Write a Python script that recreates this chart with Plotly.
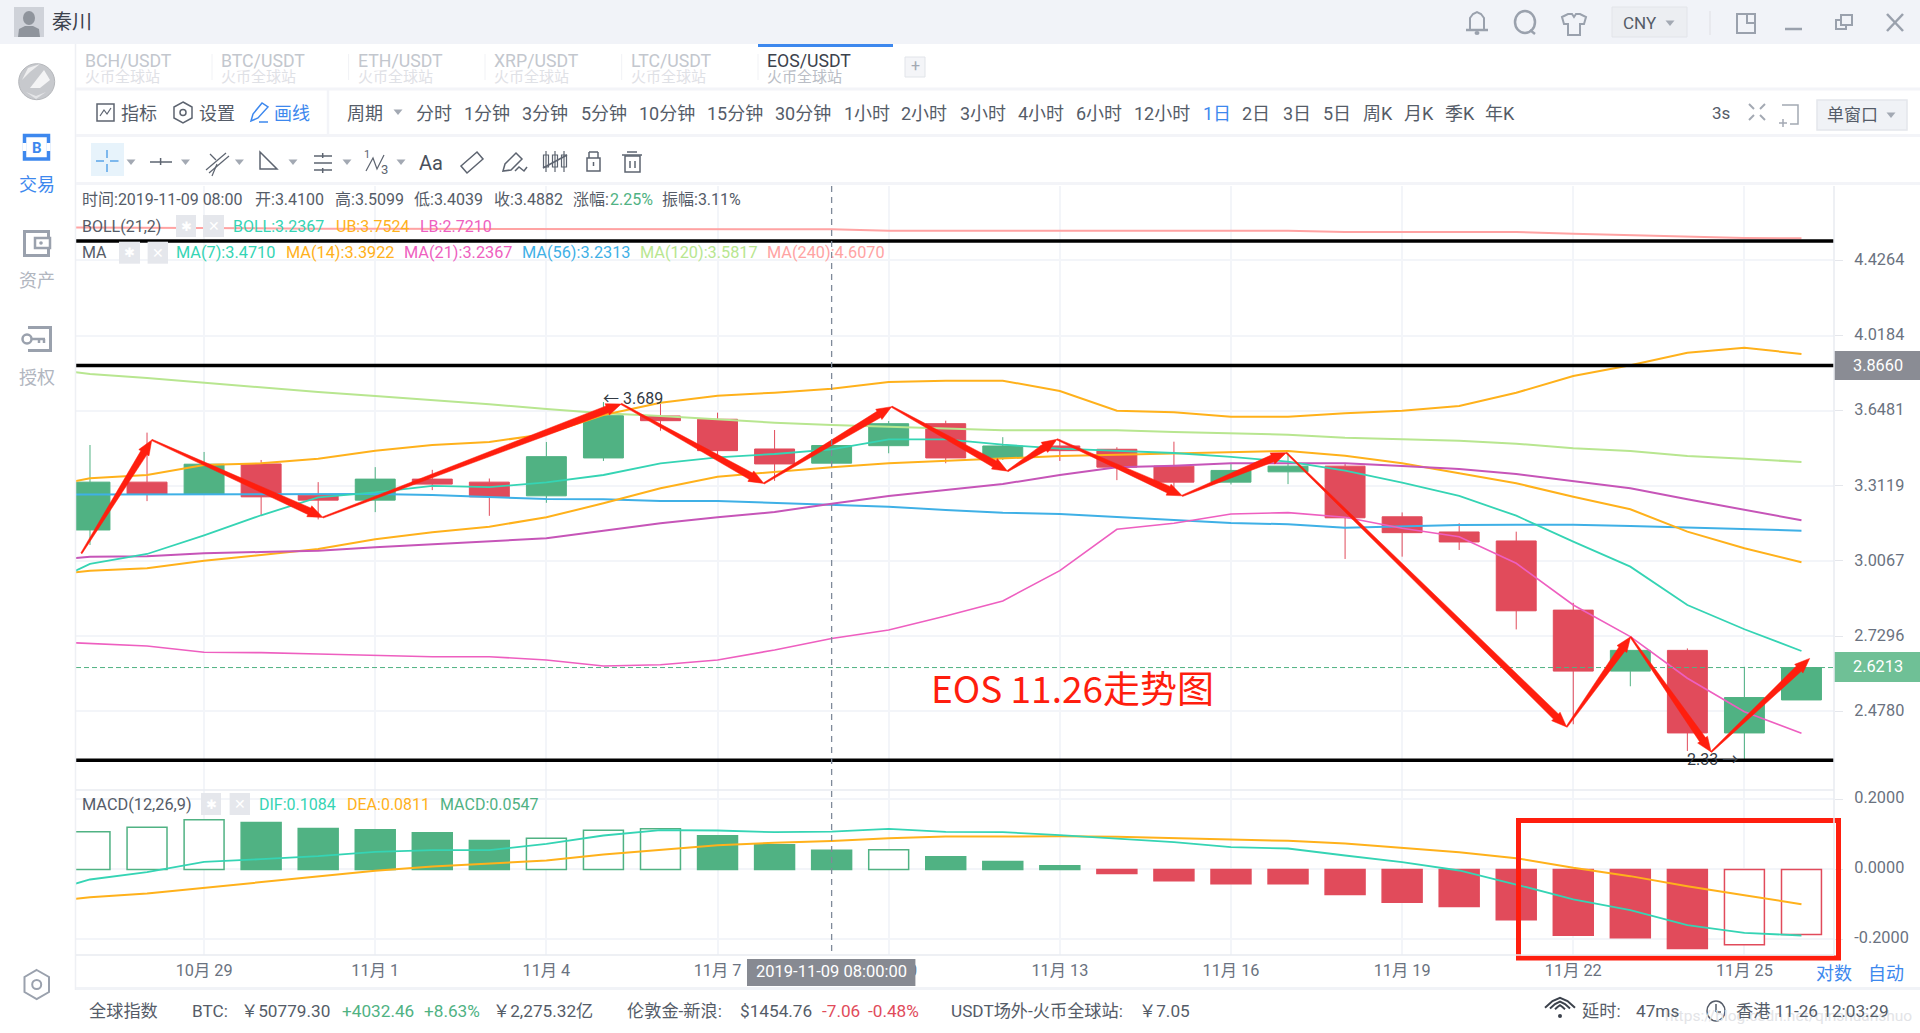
import math
import pandas as pd
import plotly.graph_objects as go

W = 1920
H = 1033

# 日线数据
dates = ["2019-10-27", "2019-10-28", "2019-10-29", "2019-10-30", "2019-10-31", "2019-11-01", "2019-11-02", "2019-11-03",
         "2019-11-04", "2019-11-05", "2019-11-06", "2019-11-07", "2019-11-08", "2019-11-09", "2019-11-10", "2019-11-11",
         "2019-11-12", "2019-11-13", "2019-11-14", "2019-11-15", "2019-11-16", "2019-11-17", "2019-11-18", "2019-11-19",
         "2019-11-20", "2019-11-21", "2019-11-22", "2019-11-23", "2019-11-24", "2019-11-25", "2019-11-26"]
opens = [3.129, 3.3277, 3.2755, 3.4065, 3.2725, 3.2515, 3.3406, 3.3277, 3.2695, 3.4329, 3.6233, 3.6081, 3.4727, 3.41, 3.4875, 3.5876,
         3.4342, 3.4862, 3.4714, 3.3969, 3.3277, 3.3721, 3.3969, 3.1825, 3.121, 3.0851, 2.8224, 2.6094, 2.6799, 2.4098, 2.5143]
highs = [3.4905, 3.5465, 3.4594, 3.424, 3.3277, 3.3925, 3.3808, 3.3433, 3.5041, 3.689, 3.6798, 3.6387, 3.5586, 3.5099, 3.6, 3.6015,
         3.5259, 3.5163, 3.4804, 3.5055, 3.4096, 3.4536, 3.4096, 3.2005, 3.1561, 3.1222, 2.849, 2.6809, 2.6867, 2.6239, 2.6235]
lows = [3.0692, 3.2474, 3.2755, 3.1882, 3.1718, 3.2017, 3.2936, 3.1865, 3.2403, 3.4196, 3.5551, 3.424, 3.3332, 3.4039, 3.4536, 3.4096,
        3.424, 3.4196, 3.3362, 3.2821, 3.3179, 3.3192, 3.0144, 3.0234, 3.0495, 2.7532, 2.4369, 2.559, 2.3546, 2.33, 2.5143]
closes = [3.3277, 3.2755, 3.4054, 3.2653, 3.2515, 3.3406, 3.3192, 3.2653, 3.4386, 3.6247, 3.6015, 3.4652, 3.4065, 3.4882, 3.5876, 3.4329,
          3.4862, 3.4652, 3.3925, 3.3277, 3.3782, 3.3969, 3.1784, 3.1182, 3.0811, 2.8199, 2.6094, 2.6799, 2.4098, 2.5221, 2.6213]

# 均线多一个点(10-26),线才能画到图的左边
line_dates = ["2019-10-26"] + dates
ma7 = [2.893, 2.9951, 3.0338, 3.1077, 3.1888, 3.2634, 3.2845, 3.3119, 3.3063, 3.327, 3.3584, 3.4094, 3.4358, 3.4504, 3.471, 3.5163,
       3.5163, 3.492, 3.474, 3.4651, 3.4548, 3.4373, 3.4164, 3.3771, 3.3253, 3.2689, 3.1871, 3.0822, 2.9848, 2.8412, 2.7537, 2.6778]
ma14 = [2.9446, 2.9695, 2.9786, 3.0079, 3.0299, 3.0535, 3.0918, 3.1197, 3.1422, 3.1806, 3.2382, 3.3015, 3.3509, 3.3714, 3.3922, 3.4094,
        3.4208, 3.4295, 3.4414, 3.4473, 3.4535, 3.4593, 3.4638, 3.443, 3.4094, 3.3657, 3.3227, 3.266, 3.2135, 3.1222, 3.0562, 3.0017]
ma21 = [3.003, 3.0234, 3.025, 3.0366, 3.0417, 3.0468, 3.0601, 3.0719, 3.0822, 3.0958, 3.1262, 3.1562, 3.1806, 3.2023, 3.2367, 3.2689,
        3.2942, 3.3198, 3.3584, 3.3919, 3.3989, 3.4094, 3.4094, 3.4094, 3.3975, 3.3845, 3.3628, 3.3326, 3.3015, 3.255, 3.2106, 3.1683]
ma56 = [3.2743, 3.2743, 3.2743, 3.2743, 3.2743, 3.2743, 3.2772, 3.273, 3.266, 3.2563, 3.255, 3.2479, 3.2479, 3.2408, 3.2313, 3.2243,
        3.2106, 3.1995, 3.1942, 3.1833, 3.1695, 3.1574, 3.152, 3.1383, 3.1452, 3.1492, 3.1504, 3.1504, 3.1452, 3.1383, 3.1331, 3.1262]
ma120 = [3.8591, 3.8245, 3.8049, 3.782, 3.7577, 3.737, 3.7178, 3.6987, 3.6783, 3.6561, 3.6359, 3.6233, 3.6079, 3.5922, 3.5817, 3.5738,
         3.5632, 3.5572, 3.5572, 3.5572, 3.5495, 3.5436, 3.5372, 3.5236, 3.5177, 3.51, 3.4966, 3.4758, 3.4637, 3.4414, 3.4296, 3.4151]
ma240 = [4.6189, 4.6165, 4.6147, 4.6135, 4.612, 4.6112, 4.61, 4.6095, 4.6088, 4.6085, 4.608, 4.6078, 4.6075, 4.6072, 4.607, 4.5987,
         4.5987, 4.5987, 4.5987, 4.5987, 4.5987, 4.5987, 4.5987, 4.591, 4.591, 4.591, 4.591, 4.581, 4.5733, 4.5645, 4.5558, 4.554]
boll_ub = [3.2972, 3.3442, 3.3584, 3.4019, 3.4094, 3.4296, 3.4651, 3.4904, 3.5041, 3.5404, 3.628, 3.6859, 3.7191, 3.7336, 3.7524, 3.7854,
           3.7917, 3.7917, 3.7418, 3.6481, 3.6406, 3.6201, 3.6201, 3.6359, 3.6481, 3.6702, 3.7336, 3.8146, 3.868, 3.9307, 3.9556, 3.9246]
boll_lb = [2.7126, 2.7032, 2.6952, 2.6734, 2.672, 2.6675, 2.663, 2.6582, 2.6582, 2.647, 2.6266, 2.631, 2.647, 2.6813, 2.721, 2.7512,
           2.8012, 2.8558, 2.9695, 3.1318, 3.1562, 3.1942, 3.1995, 3.1806, 3.1358, 3.1021, 2.9978, 2.8412, 2.7276, 2.5855, 2.4767, 2.4087]

macd_hist = [0.1076, 0.121, 0.142, 0.1343, 0.117, 0.1133, 0.1048, 0.0829, 0.0895, 0.1124, 0.1162, 0.0962, 0.0705, 0.0547, 0.0562, 0.0362,
             0.0229, 0.0105, -0.0114, -0.0324, -0.041, -0.041, -0.0714, -0.0933, -0.1057, -0.1438, -0.1876, -0.1952, -0.2257, -0.2152, -0.1857]
macd_hollow = [1, 1, 1, 0, 0, 0, 0, 0, 1, 1, 1, 0, 0, 0, 1, 0, 0, 0, 0, 0, 0, 0, 0, 0, 0, 0, 0, 0, 0, 1, 1]
dif = [-0.075, -0.0286, -0.0076, 0.0219, 0.0295, 0.0381, 0.0505, 0.0552, 0.0552, 0.0733, 0.0971, 0.1124, 0.1114, 0.1067, 0.1084, 0.1162,
       0.1076, 0.1067, 0.0981, 0.0886, 0.0781, 0.0638, 0.06, 0.04, 0.021, -0.0029, -0.0429, -0.0857, -0.1162, -0.159, -0.181, -0.1886]
dea = [-0.0986, -0.079, -0.0686, -0.0524, -0.0362, -0.0219, -0.0038, 0.0086, 0.0181, 0.0257, 0.0429, 0.0552, 0.0695, 0.0762, 0.0811, 0.0895,
       0.0943, 0.0943, 0.0952, 0.0933, 0.0895, 0.0857, 0.0819, 0.0743, 0.061, 0.0495, 0.0324, 0.0048, -0.019, -0.0476, -0.0733, -0.099]

# 手画的折线箭头
zigzag_time = ["2019-10-26 20:24", "2019-10-28 02:00", "2019-10-31 02:00", "2019-11-05 07:30", "2019-11-07 19:30", "2019-11-10 01:16",
               "2019-11-12 02:00", "2019-11-12 22:50", "2019-11-15 03:30", "2019-11-16 23:18", "2019-11-21 21:12", "2019-11-23 00:07",
               "2019-11-24 10:00", "2019-11-26 03:27"]
zigzag_price = [3.0366, 3.5132, 3.18, 3.6798, 3.3221, 3.667, 3.3751, 3.5163, 3.2695, 3.4562, 2.4284, 2.7271, 2.3516, 2.6524]

black_levels = [4.5383, 3.866, 2.3267]
last_price = 2.6213

price_ticks = [4.4264, 4.0184, 3.6481, 3.3119, 3.0067, 2.7296, 2.478]
macd_ticks = [0.2, 0.0, -0.2]
tick_dates = ["2019-10-29", "2019-11-01", "2019-11-04", "2019-11-07", "2019-11-10", "2019-11-13", "2019-11-16", "2019-11-19", "2019-11-22", "2019-11-25"]
tick_labels = ["10月 29", "11月 1", "11月 4", "11月 7", "11月 10", "11月 13", "11月 16", "11月 19", "11月 22", "11月 25"]

x_range = ["2019-10-26 18:07", "2019-11-26 13:41"]
price_range = [2.2392, 4.8712]
macd_range = [-0.2443, 0.2271]

GREEN = "#50b283"
RED = "#e14b5b"
TEAL = "#35d4b4"
ORANGE = "#ffb11b"
MAGENTA = "#c655b8"
PINK = "#ee5fc0"
BLUE = "#3fb0e6"
LGREEN = "#b8e690"
SALMON = "#ffa3a3"
TXT = "#555c68"
GRID = "#f3f5f9"
ICON = "#9aa1ad"
TOOL = "#5d6470"
ACTIVE = "#3d88ee"
ARROW = "#ff1e0e"
FONT = "Roboto, 'Noto Sans CJK SC', sans-serif"

PLOT_L, PLOT_R = 76, 1834
PANE_T, PANE_M, PANE_B = 186, 790, 955

fig = go.Figure()

fig.add_trace(go.Candlestick(x=dates, open=opens, high=highs, low=lows, close=closes, whiskerwidth=0,
                             increasing=dict(line=dict(color=GREEN, width=1), fillcolor=GREEN),
                             decreasing=dict(line=dict(color=RED, width=1), fillcolor=RED),
                             showlegend=False, hoverinfo="skip"))

for vals, col, wd in [(ma240, SALMON, 2), (ma120, LGREEN, 2), (ma56, BLUE, 2), (boll_ub, ORANGE, 2), (boll_lb, PINK, 1.6),
                      (ma14, ORANGE, 2), (ma21, MAGENTA, 2), (ma7, TEAL, 1.8)]:
    fig.add_trace(go.Scatter(x=line_dates, y=vals, mode="lines", line=dict(color=col, width=wd), showlegend=False, hoverinfo="skip"))

for lv in black_levels:
    fig.add_trace(go.Scatter(x=x_range, y=[lv, lv], mode="lines", line=dict(color="#000000", width=3.5), showlegend=False, hoverinfo="skip"))
fig.add_trace(go.Scatter(x=x_range, y=[last_price, last_price], mode="lines", line=dict(color=GREEN, width=1, dash="5px,3px"),
                         showlegend=False, hoverinfo="skip"))

# 箭头: 尾细头粗, 多边形的宽度按像素算
t0 = pd.Timestamp(x_range[0])
day_px = (PLOT_R - PLOT_L) / ((pd.Timestamp(x_range[1]) - t0) / pd.Timedelta(days=1))
lg0, lg1 = math.log10(price_range[0]), math.log10(price_range[1])
dec_px = (PANE_M - PANE_T) / (lg1 - lg0)


def to_px(t, p):
    return ((pd.Timestamp(t) - t0) / pd.Timedelta(days=1) * day_px, -math.log10(p) * dec_px)


def from_px(px, py):
    return t0 + pd.Timedelta(days=px / day_px), 10 ** (-py / dec_px)


for i in range(len(zigzag_time) - 1):
    ax, ay = to_px(zigzag_time[i], zigzag_price[i])
    bx, by = to_px(zigzag_time[i + 1], zigzag_price[i + 1])
    ln = math.hypot(bx - ax, by - ay)
    dx, dy = (bx - ax) / ln, (by - ay) / ln
    nx, ny = -dy, dx
    neck = (bx - dx * 15, by - dy * 15)
    pts = [(ax + nx * 0.7, ay + ny * 0.7), (neck[0] + nx * 3.6, neck[1] + ny * 3.6), (neck[0] + nx * 6, neck[1] + ny * 6), (bx, by),
           (neck[0] - nx * 6, neck[1] - ny * 6), (neck[0] - nx * 3.6, neck[1] - ny * 3.6), (ax - nx * 0.7, ay - ny * 0.7), (ax + nx * 0.7, ay + ny * 0.7)]
    conv = [from_px(*q) for q in pts]
    fig.add_trace(go.Scatter(x=[c[0] for c in conv], y=[c[1] for c in conv], mode="lines", fill="toself", fillcolor=ARROW,
                             line=dict(color=ARROW, width=0.5), showlegend=False, hoverinfo="skip"))

# MACD
bar_fill = ["#ffffff" if h else (GREEN if v >= 0 else RED) for v, h in zip(macd_hist, macd_hollow)]
bar_line = [GREEN if v >= 0 else RED for v in macd_hist]
fig.add_trace(go.Bar(x=dates, y=macd_hist, yaxis="y2", width=60500000, marker=dict(color=bar_fill, line=dict(color=bar_line, width=1.5)),
                     showlegend=False, hoverinfo="skip"))
fig.add_trace(go.Scatter(x=line_dates, y=dea, yaxis="y2", mode="lines", line=dict(color=ORANGE, width=2), showlegend=False, hoverinfo="skip"))
fig.add_trace(go.Scatter(x=line_dates, y=dif, yaxis="y2", mode="lines", line=dict(color=TEAL, width=1.8), showlegend=False, hoverinfo="skip"))

shapes = []
annos = []


def px(x):
    return x / W


def py(y):
    return 1 - y / H


def rect(x0, y0, x1, y1, fill="rgba(0,0,0,0)", line=None, lw=1):
    shapes.append(dict(type="rect", xref="paper", yref="paper", x0=px(x0), x1=px(x1), y0=py(y0), y1=py(y1), fillcolor=fill,
                       line=dict(color=line or "rgba(0,0,0,0)", width=lw if line else 0)))


def seg(x0, y0, x1, y1, col=ICON, lw=1.5):
    shapes.append(dict(type="line", xref="paper", yref="paper", x0=px(x0), x1=px(x1), y0=py(y0), y1=py(y1), line=dict(color=col, width=lw)))


def circ(cx, cy, rx, ry, fill="rgba(0,0,0,0)", line=None, lw=1.5):
    shapes.append(dict(type="circle", xref="paper", yref="paper", x0=px(cx - rx), x1=px(cx + rx), y0=py(cy + ry), y1=py(cy - ry), fillcolor=fill,
                       line=dict(color=line or "rgba(0,0,0,0)", width=lw if line else 0)))


def poly(points, fill="rgba(0,0,0,0)", line=None, lw=1.5, close=True):
    d = "M " + " L ".join(f"{px(a):.5f} {py(b):.5f}" for a, b in points) + (" Z" if close else "")
    shapes.append(dict(type="path", xref="paper", yref="paper", path=d, fillcolor=fill, line=dict(color=line or "rgba(0,0,0,0)", width=lw if line else 0)))


def tri(x, y, col="#a3a9b3", s=4.5):
    poly([(x - s, y - 2.5), (x + s, y - 2.5), (x, y + 3)], fill=col)


def label(x, y, text, size=17, col=TXT, anchor="left"):
    annos.append(dict(xref="paper", yref="paper", x=px(x), y=py(y), text=text, showarrow=False, xanchor=anchor, yanchor="middle", borderpad=0,
                      font=dict(family=FONT, size=size, color=col)))


def gearbox(x0, x1, y):
    rect(x0, y - 11, x1, y + 11, fill="#e5e7ec")
    label((x0 + x1) / 2, y, "✱", 13, "#ffffff", "center")


def closebox(x0, x1, y):
    rect(x0, y - 11, x1, y + 11, fill="#e5e7ec")
    label((x0 + x1) / 2, y, "✕", 14, "#ffffff", "center")


# 顶栏
rect(0, 0, W, 44, fill="#f1f3f8")
rect(14, 7, 44, 37, fill="#cfd2d9")
circ(29, 18, 6, 7, fill="#8f949c")
poly([(18, 37), (19, 29), (25, 26), (33, 26), (39, 29), (40, 37)], fill="#8f949c")
label(51, 22, "秦川", 20, "#3c424c")
poly([(1470, 30), (1470, 18), (1473, 14), (1477, 12), (1481, 14), (1484, 18), (1484, 30)], line=ICON, lw=2)
seg(1466, 30, 1488, 30, ICON, 2.5)
circ(1477, 33, 2.5, 2, fill=ICON)
circ(1525, 22, 10, 11, line=ICON, lw=2.5)
seg(1530, 30, 1535, 34, ICON, 2.5)
poly([(1562, 17), (1568, 14), (1572, 14), (1574, 17), (1576, 14), (1580, 14), (1586, 17), (1584, 24), (1580, 24), (1580, 35), (1568, 35), (1568, 24), (1564, 24)],
     line=ICON, lw=2)
rect(1612, 7, 1687, 37, fill="#eceef2", line="#e2e4e9")
label(1622, 23, "CNY", 17, "#555c68")
tri(1670, 23)
seg(1710, 11, 1710, 35, "#e4e6eb", 1.5)
rect(1737, 14, 1755, 33, line=ICON, lw=2)
rect(1747, 14, 1755, 23, fill="#f1f3f8", line=ICON, lw=2)
seg(1785, 29, 1802, 29, ICON, 2.5)
rect(1836, 20, 1846, 29, line=ICON, lw=2)
rect(1841, 15, 1852, 25, fill="#f1f3f8", line=ICON, lw=2)
seg(1887, 14, 1903, 31, ICON, 2.5)
seg(1903, 14, 1887, 31, ICON, 2.5)

# 左侧栏
seg(75.5, 44, 75.5, 990, "#eef0f4", 1.5)
circ(36.7, 81.7, 18, 18, fill="#c7c9cd", line="#b5b7bb", lw=1)
poly([(22, 80), (28, 68), (40, 64), (30, 72)], fill="#eeeeef")
poly([(30, 88), (44, 70), (50, 80), (40, 88)], fill="#f4f4f5")
poly([(26, 92), (36, 96), (46, 92), (36, 99)], fill="#e4e5e7")
rect(24.5, 135.5, 48.5, 159, line=ACTIVE, lw=3.5)
seg(24.5, 143, 24.5, 151, "#ffffff", 4)
seg(48.5, 143, 48.5, 151, "#ffffff", 4)
label(36.7, 147.5, "<b>B</b>", 15, ACTIVE, "center")
label(36.7, 185, "交易", 18, ACTIVE, "center")
rect(24.5, 231.5, 48.5, 255.5, line=ICON, lw=3)
rect(35, 238, 50, 248, fill="#ffffff", line=ICON, lw=2.5)
circ(41, 243, 1.8, 1.8, fill=ICON)
label(36.7, 280, "资产", 18, "#b1b6bf", "center")
poly([(28, 327.5), (50.5, 327.5), (50.5, 350.5), (28, 350.5)], line=ICON, lw=3, close=False)
circ(27, 339, 4.5, 4.5, fill="#ffffff", line=ICON, lw=2.5)
seg(32, 339, 45, 339, ICON, 2.5)
seg(39, 339, 39, 343, ICON, 2.5)
seg(44, 339, 44, 343, ICON, 2.5)
label(36.7, 377, "授权", 18, "#b1b6bf", "center")
poly([(36.7, 970), (49, 977), (49, 992), (36.7, 999), (24.5, 992), (24.5, 977)], line=ICON, lw=2)
circ(36.7, 984.5, 4.5, 4.5, line=ICON, lw=2)

# 标签页
tab_names = ["BCH/USDT", "BTC/USDT", "ETH/USDT", "XRP/USDT", "LTC/USDT", "EOS/USDT"]
tab_x = [83.5, 220, 356.6, 493, 629.7, 766]
for i, (nm, tx) in enumerate(zip(tab_names, tab_x)):
    on = nm == "EOS/USDT"
    label(tx, 61, nm, 17.7, "#3c424c" if on else "#c3c7ce")
    label(tx, 77, "火币全球站", 15, "#b9bdc5" if on else "#dfe1e6")
    if i:
        seg(tx - 8, 54, tx - 8, 80, "#f1f2f5", 1)
rect(758, 44, 893, 47, fill=ACTIVE)
rect(905, 57, 925, 77, fill="#f4f5f8", line="#e1e4e9")
label(915, 66, "+", 16, "#a3a9b3", "center")
rect(76, 87.5, W, 90.5, fill="#f3f4f8")
rect(76, 134, W, 137, fill="#f3f4f8")
rect(76, 182, W, 185, fill="#f3f4f8")

# 工具栏 1
rect(97, 104, 114, 121, line=TOOL, lw=1.5)
poly([(100, 116), (104, 110), (107, 114), (111, 108)], line=TOOL, lw=1.2, close=False)
label(119.5, 113, "指标", 18)
poly([(183, 102), (192, 107), (192, 118), (183, 123), (174, 118), (174, 107)], line=TOOL, lw=1.5)
circ(183, 112.5, 3, 3, line=TOOL, lw=1.5)
label(198, 113, "设置", 18)
poly([(251, 121), (253, 114), (262, 103), (268, 107), (258, 118)], line=ACTIVE, lw=1.5)
seg(259, 122, 268, 122, ACTIVE, 1.5)
label(272.7, 113, "画线", 18, ACTIVE)
seg(328, 90, 328, 134, "#f3f4f8", 2.5)
label(345.6, 113, "周期", 18)
tri(398, 112)
period_names = ["分时", "1分钟", "3分钟", "5分钟", "10分钟", "15分钟", "30分钟", "1小时", "2小时", "3小时", "4小时", "6小时", "12小时",
                "1日", "2日", "3日", "5日", "周K", "月K", "季K", "年K"]
period_x = [414.8, 463, 521, 580, 637.7, 706, 774, 843, 900.4, 959, 1017, 1075, 1133, 1201.5, 1240.7, 1281.7, 1321.5, 1362, 1403, 1444, 1484.4]
for nm, tx in zip(period_names, period_x):
    label(tx, 113, nm, 18, ACTIVE if nm == "1日" else TXT)
label(1711, 113, "3s", 17)
for sx, sy in [(-1, -1), (1, -1), (-1, 1), (1, 1)]:
    seg(1757 + sx * 3, 112 + sy * 3, 1757 + sx * 8, 112 + sy * 8, "#a3a9b3", 2)
poly([(1782, 105), (1798, 105), (1798, 124), (1790, 124)], line="#a3a9b3", lw=1.5, close=False)
seg(1783, 119, 1783, 127, "#a3a9b3", 1.5)
seg(1779, 123, 1787, 123, "#a3a9b3", 1.5)
rect(1817, 100, 1907, 130, fill="#f0f2f6", line="#e4e6eb", lw=1.5)
label(1826, 115, "单窗口", 17)
tri(1891, 115)

# 工具栏 2
rect(91, 143, 124, 176, fill="#e7f3fb")
seg(96, 161, 104, 161, "#5aa4e8", 1.5)
seg(110, 161, 118.5, 161, "#5aa4e8", 1.5)
seg(107, 150, 107, 158, "#5aa4e8", 1.5)
seg(107, 164, 107, 172, "#5aa4e8", 1.5)
for tx in [131, 185.5, 239.4, 293, 347, 401]:
    tri(tx, 162)
seg(150, 162, 172, 162, TOOL, 1.5)
seg(160.6, 158, 160.6, 165, TOOL, 1.5)
seg(206, 170, 226, 153, TOOL, 1.2)
seg(209, 173, 229, 156, TOOL, 1.2)
seg(210, 154, 216, 160, TOOL, 1.2)
seg(217, 164, 212, 176, TOOL, 1.2)
poly([(260, 152), (277, 169), (260, 169)], line=TOOL, lw=1.5)
for yy in [156, 163, 170]:
    seg(314, yy, 332, yy, TOOL, 1.5)
seg(322.7, 153, 322.7, 158, TOOL, 1.5)
seg(322.7, 168, 322.7, 173, TOOL, 1.5)
poly([(366, 171), (373, 158), (377, 169), (384, 155)], line=TOOL, lw=1.2, close=False)
label(367, 155, "1", 11, TOOL, "center")
label(384, 169, "3", 13, TOOL, "center")
label(431, 163, "Aa", 20, "#4a505b", "center")
poly([(461, 166), (477, 152), (483, 159), (467, 173)], line=TOOL, lw=1.5)
poly([(503, 171), (505, 164), (516, 153), (522, 159), (511, 170)], line=TOOL, lw=1.5)
poly([(515, 171), (519, 167), (524, 171), (527, 167)], line=TOOL, lw=1.5, close=False)
for tx in [546, 555, 564]:
    seg(tx, 151, tx, 172, TOOL, 1.2)
    rect(tx - 2.5, 155, tx + 2.5, 167, line=TOOL, lw=1.2)
seg(543, 168, 567, 155, TOOL, 1.5)
rect(587, 158, 600, 171, line=TOOL, lw=1.5)
seg(589, 152, 598, 152, TOOL, 1.5)
seg(589, 152, 589, 158, TOOL, 1.5)
seg(598, 152, 598, 158, TOOL, 1.5)
seg(593.5, 162, 593.5, 166, TOOL, 1.5)
rect(625, 156, 640, 172, line=TOOL, lw=1.5)
seg(622, 155, 642, 155, TOOL, 1.5)
seg(627, 152, 637, 152, TOOL, 1.5)
seg(630, 161, 630, 168, TOOL, 1.5)
seg(635, 161, 635, 168, TOOL, 1.5)

# 信息行
info_items = ["时间:2019-11-09 08:00", "开:3.4100", "高:3.5099", "低:3.4039", "收:3.4882", "涨幅:", "振幅:3.11%"]
info_x = [81.2, 253.5, 334, 413, 492.5, 571.5, 661]
for t, tx in zip(info_items, info_x):
    label(tx, 199, t, 16)
label(609, 199, "2.25%", 16, GREEN)

label(81.2, 226, "BOLL(21,2)", 16)
gearbox(176, 196, 226)
closebox(203, 224, 226)
for t, tx, col in [("BOLL:3.2367", 232, TEAL), ("UB:3.7524", 334.5, ORANGE), ("LB:2.7210", 419, PINK)]:
    label(tx, 226, t, 16, col)

label(81.2, 252.7, "MA", 16)
gearbox(119, 140, 252.7)
closebox(147.6, 168, 252.7)
for t, tx, col in [("MA(7):3.4710", 175, TEAL), ("MA(14):3.3922", 285, ORANGE), ("MA(21):3.2367", 403, PINK), ("MA(56):3.2313", 521, BLUE),
                   ("MA(120):3.5817", 639, LGREEN), ("MA(240):4.6070", 766, SALMON)]:
    label(tx, 252.7, t, 16.3, col)

label(81.2, 804, "MACD(12,26,9)", 16.3)
gearbox(201, 221, 804)
closebox(229.6, 250, 804)
for t, tx, col in [("DIF:0.1084", 258, TEAL), ("DEA:0.0811", 345.6, ORANGE), ("MACD:0.0547", 438.7, GREEN)]:
    label(tx, 804, t, 16, col)

# 高低点标注
annos.append(dict(x="2019-11-05 12:30", y=math.log10(3.705), xref="x", yref="y", text="← 3.689", showarrow=False, xanchor="center", yanchor="middle",
                  font=dict(family=FONT, size=16, color="#333a44")))
annos.append(dict(x="2019-11-25 00:00", y=math.log10(2.33), xref="x", yref="y", text="2.33 →", showarrow=False, xanchor="right", yanchor="middle",
                  xshift=-4, font=dict(family=FONT, size=16, color="#333a44")))
annos.append(dict(x=px(929), y=py(687), xref="paper", yref="paper", text="EOS 11.26走势图", showarrow=False, xanchor="left", yanchor="middle",
                  font=dict(family="'Noto Sans CJK SC', sans-serif", size=37, color=ARROW)))

# 十字线和价格标签
shapes.append(dict(type="line", xref="x", yref="paper", x0="2019-11-09", x1="2019-11-09", y0=py(PANE_T), y1=py(PANE_B),
                   line=dict(color="#7f8a99", width=1.3, dash="6px,5px")))
rect(1834, 351, W, 380, fill="#8a8c94")
label(1852, 365, "3.8660", 16.3, "#ffffff")
rect(1834, 652, W, 682, fill="#6fc096")
label(1852, 666.5, "2.6213", 16.3, "#ffffff")
rect(747, 959, 915.4, 986, fill="#878a92")
label(831, 971.5, "2019-11-09 08:00:00", 16.5, "#ffffff", "center")

# 红框
rect(1518.5, 820.5, 1838.5, 958, line=ARROW, lw=5)

label(1815, 973, "对数", 18, ACTIVE)
label(1867, 973, "自动", 18, ACTIVE)

# 底部状态栏
rect(76, 987, W, 990, fill="#f1f3f7")
status_items = [("全球指数", 88, TXT), ("BTC:", 190.5, TXT), ("￥50779.30", 240, TXT), ("+4032.46", 341, GREEN), ("+8.63%", 422.5, GREEN),
                ("￥2,275.32亿", 492, TXT), ("伦敦金-新浪:", 626, TXT), ("$1454.76", 739, TXT), ("-7.06", 820.5, RED), ("-0.48%", 866.5, RED),
                ("USDT场外-火币全球站:", 950, TXT), ("￥7.05", 1138, TXT), ("延时:", 1581, TXT), ("47ms", 1635, TXT), ("香港 11-26 12:03:29", 1735, TXT)]
label(1664, 1016, "https://blog.csdn.net/qinshuanshuo", 15.5, "#e3e4e7")
for t, tx, col in status_items:
    label(tx, 1011, t, 17.2, col)
for rr in [5, 10, 15]:
    poly([(1560 - rr, 1010 - rr * 0.15), (1560 - rr * 0.5, 1010 - rr * 0.6), (1560, 1010 - rr * 0.75 - 1), (1560 + rr * 0.5, 1010 - rr * 0.6),
          (1560 + rr, 1010 - rr * 0.15)], line="#3c424c", lw=2, close=False)
circ(1560, 1016, 2, 2, fill="#3c424c")
circ(1716, 1011, 9, 10, line="#555c68", lw=1.5)
seg(1716, 1004, 1716, 1012, "#555c68", 1.5)
seg(1716, 1012, 1721, 1012, "#555c68", 1.5)

# 面板边框
seg(PLOT_L, PANE_M, PLOT_R, PANE_M, "#e9ebf0", 1.5)
seg(PLOT_L, PANE_B, PLOT_R, PANE_B, "#e9ebf0", 1.5)
seg(PLOT_R, PANE_T, PLOT_R, PANE_B, "#e9ebf0", 1.5)

axis_font = dict(family=FONT, size=16.3, color="#6a7280")
fig.update_layout(
    width=W, height=H, autosize=False,
    margin=dict(l=0, r=0, t=0, b=0, pad=0, autoexpand=False),
    paper_bgcolor="#ffffff", plot_bgcolor="#ffffff",
    showlegend=False, bargap=0.3, boxgap=0.3, boxgroupgap=0, hovermode=False,
    font=dict(family=FONT),
    xaxis=dict(domain=[PLOT_L / W, PLOT_R / W], type="date", range=x_range, anchor="y2", rangeslider=dict(visible=False),
               tickmode="array", tickvals=tick_dates, ticktext=tick_labels, tickfont=axis_font, ticks="", ticklen=0, ticklabelstandoff=4,
               showgrid=True, gridcolor=GRID, gridwidth=1.5, showline=False, zeroline=False),
    yaxis=dict(domain=[py(PANE_M), py(PANE_T)], type="log", range=[lg0, lg1], side="right", anchor="x",
               tickmode="array", tickvals=price_ticks, ticktext=[f"{v:.4f}" for v in price_ticks], tickfont=axis_font,
               ticks="outside", ticklen=8, tickcolor="#e5e7ec", ticklabelstandoff=8, ticklabelshift=-1,
               showgrid=True, gridcolor=GRID, gridwidth=1.5, showline=False, zeroline=False),
    yaxis2=dict(domain=[py(PANE_B), py(PANE_M)], range=macd_range, side="right", anchor="x",
                tickmode="array", tickvals=macd_ticks, ticktext=[f"{v:.4f}" for v in macd_ticks], tickfont=axis_font,
                ticks="outside", ticklen=8, tickcolor="#e5e7ec", ticklabelstandoff=8, ticklabelshift=-2,
                showgrid=True, gridcolor=GRID, gridwidth=1.5, showline=False, zeroline=False),
    shapes=shapes, annotations=annos,
)

fig.write_html("out.html", config={"displayModeBar": False},
               post_script="document.body.style.margin='0';document.body.style.overflow='hidden';")
